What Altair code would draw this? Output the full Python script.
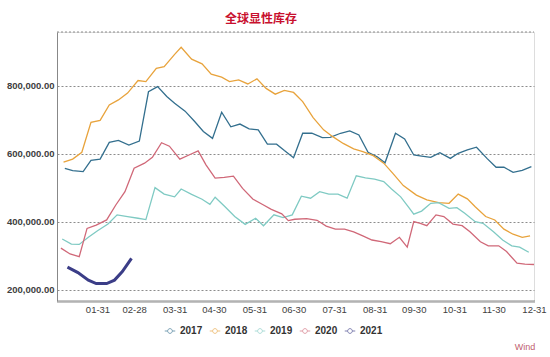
import altair as alt
import pandas as pd

years = ["2017", "2018", "2019", "2020", "2021"]
colors = ["#336f8e", "#e8a33c", "#7fcac3", "#d06878", "#3b3d87"]

d2017 = [6, 12, 20, 26, 33, 40, 47, 55, 63, 70, 77, 84, 90, 98, 105, 112, 119, 126, 133, 140,
         147, 154, 161, 168, 174, 181, 188, 195, 203, 209, 217, 224, 231, 238, 245, 251, 259, 266, 273, 279,
         286, 293, 301, 307, 314, 321, 329, 336, 342, 349, 356, 363]
v2017 = [558, 551, 548, 581, 585, 634, 640, 626, 638, 783, 798, 769, 749, 726, 697, 666, 646, 723, 680, 688,
         674, 671, 629, 629, 610, 589, 661, 661, 648, 649, 661, 668, 656, 605, 592, 574, 661, 644, 597, 594,
         590, 604, 587, 602, 612, 620, 587, 561, 561, 546, 552, 563]

d2018 = [5, 12, 19, 26, 33, 40, 47, 54, 62, 68, 76, 82, 90, 95, 103, 111, 118, 126, 132, 139,
         146, 153, 160, 167, 174, 181, 188, 196, 204, 211, 219, 227, 234, 242, 250, 257, 265, 275, 283, 292,
         300, 307, 314, 320, 328, 335, 342, 349, 356, 362]
v2018 = [576, 585, 605, 693, 699, 744, 759, 779, 816, 813, 852, 857, 893, 914, 879, 865, 835, 826, 813, 818,
         806, 821, 793, 776, 787, 781, 754, 707, 671, 651, 631, 615, 607, 595, 573, 543, 507, 479, 465, 457,
         455, 482, 468, 445, 416, 406, 379, 364, 355, 359]

d2019 = [4, 11, 17, 24, 31, 39, 46, 54, 62, 68, 75, 82, 90, 95, 103, 111, 117, 121, 128, 136,
         144, 152, 158, 166, 173, 180, 187, 194, 201, 208, 215, 222, 229, 236, 243, 250, 256, 263, 269, 273,
         279, 286, 292, 300, 306, 312, 320, 326, 334, 341, 348, 354, 361]
v2019 = [350, 335, 334, 355, 374, 394, 421, 416, 411, 407, 501, 482, 474, 497, 481, 467, 452, 473, 447, 416,
         393, 411, 389, 421, 413, 421, 476, 470, 489, 482, 482, 470, 536, 530, 526, 519, 497, 474, 444, 423,
         432, 455, 457, 440, 442, 426, 401, 396, 371, 347, 330, 326, 311]

d2020 = [3, 10, 17, 23, 30, 38, 45, 52, 59, 67, 73, 80, 86, 94, 101, 108, 114, 121, 128, 135,
         142, 150, 157, 164, 172, 177, 182, 191, 199, 206, 213, 220, 227, 234, 241, 248, 255, 262, 268, 273,
         278, 283, 290, 296, 303, 310, 316, 324, 330, 338, 344, 352, 358, 365]
v2020 = [323, 306, 298, 381, 391, 406, 450, 489, 558, 573, 590, 633, 623, 585, 597, 609, 568, 529, 531, 535,
         499, 467, 452, 437, 424, 404, 408, 410, 405, 388, 379, 379, 371, 359, 347, 342, 336, 355, 326, 401,
         396, 389, 421, 416, 394, 389, 371, 342, 330, 330, 313, 279, 276, 275]

d2021 = [8, 16, 24, 30, 38, 44, 50, 57]
v2021 = [267, 251, 229, 219, 219, 229, 254, 293]

month_ends = [31, 59, 90, 120, 151, 181, 212, 243, 273, 304, 334, 365]
y_ticks = [200000, 400000, 600000, 800000]

rows = []
for yr, ds, vs in zip(years, [d2017, d2018, d2019, d2020, d2021], [v2017, v2018, v2019, v2020, v2021]):
    for d, v in zip(ds, vs):
        rows.append({"year": yr, "day": d, "value": v * 1000})
df = pd.DataFrame(rows)

W, H = 477, 269
FONT = "Liberation Sans"

legend_path = ("M-1,0L-0.45,0M0.45,0L1,0M-0.45,0A0.45,0.45,0,1,1,0.45,0"
               "A0.45,0.45,0,1,1,-0.45,0")

lines = alt.Chart(df).mark_line(clip=False).encode(
    x=alt.X("day:Q", scale=alt.Scale(domain=[0, 365], nice=False, zero=False),
            axis=alt.Axis(values=month_ends, title=None, grid=False, ticks=False,
                          labelExpr="timeFormat(datetime(2021, 0, datum.value), '%m-%d')",
                          labelFont=FONT, labelFontSize=9.5, labelColor="#404040",
                          labelPadding=3, labelOverlap=False, labelBound=False, labelFlush=False,
                          domainColor="#888888", domainWidth=3, domainDash=[1, 1])),
    y=alt.Y("value:Q", scale=alt.Scale(domain=[167600, 958800], nice=False, zero=False),
            axis=alt.Axis(values=y_ticks, format=",.2f", title=None, ticks=False,
                          labelFont=FONT, labelFontSize=9.5, labelFontWeight="bold",
                          labelColor="#404040", labelPadding=3,
                          grid=True, gridColor="#8c8c8c", gridDash=[2, 2], gridWidth=1,
                          domainColor="#888888", domainWidth=1)),
    color=alt.Color("year:N", scale=alt.Scale(domain=years, range=colors),
                    legend=alt.Legend(title=None, orient="none", direction="horizontal",
                                      legendX=107, legendY=293,
                                      symbolType=legend_path, symbolSize=110,
                                      symbolStrokeWidth=1, symbolOpacity=0.65,
                                      symbolFillColor="white",
                                      labelFont=FONT, labelFontSize=10, labelFontWeight="bold",
                                      labelColor="#333333", labelOffset=4, columnPadding=4)),
    strokeWidth=alt.condition("datum.year == '2021'", alt.value(3), alt.value(1.3)),
)

top_border = alt.Chart(pd.DataFrame({"a": [0]})).mark_rule(
    color="#8c8c8c", strokeDash=[2, 2], strokeWidth=1
).encode(x=alt.value(0), x2=alt.value(W), y=alt.value(0))

title = alt.Chart(pd.DataFrame({"t": ["全球显性库存"]})).mark_text(
    font="Noto Sans CJK SC", fontSize=12, fontWeight="bold", color="#c8102e",
    align="center", baseline="middle"
).encode(x=alt.value(204), y=alt.value(-13), text="t:N")

wind = alt.Chart(pd.DataFrame({"t": ["Wind"]})).mark_text(
    font=FONT, fontSize=9, color="#c0606e", align="center", baseline="middle"
).encode(x=alt.value(468), y=alt.value(315), text="t:N")

chart = alt.layer(top_border, lines, title, wind).properties(
    width=W, height=H,
    autosize=alt.AutoSizeParams(type="none"),
    padding={"left": 57, "top": 32, "right": 16, "bottom": 56},
).configure_view(stroke=None).configure(background="white")

chart.save("out.html", embed_options={"renderer": "svg", "actions": False})
